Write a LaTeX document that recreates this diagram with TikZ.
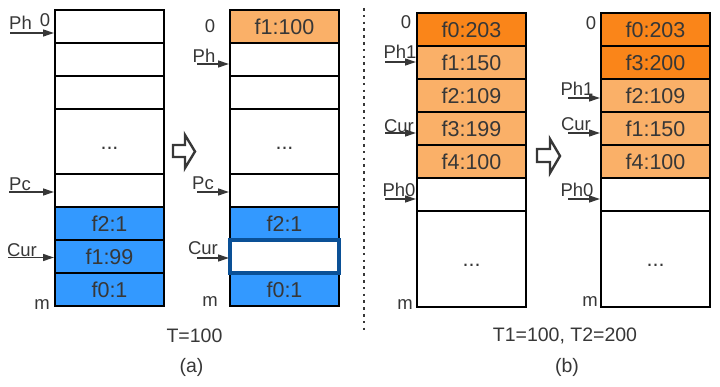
\documentclass[tikz,border=0pt]{standalone}
\usepackage{fontspec}
\setmainfont{Liberation Sans}
\usetikzlibrary{positioning,arrows.meta,calc}
\definecolor{cellblue}{RGB}{51,153,255}
\definecolor{hiblue}{RGB}{10,80,150}
\definecolor{darkor}{RGB}{250,133,25}
\definecolor{lightor}{RGB}{250,176,104}
\definecolor{ink}{RGB}{55,55,55}
\newcommand\celldots{...}

\begin{document}
\begin{tikzpicture}[x=1pt,y=-1pt,
  cell/.style={draw,line width=2.4pt,minimum width=109pt,minimum height=33pt,inner sep=0pt,outer sep=0pt,
    text=ink,font=\fontsize{21.5}{24}\selectfont,text height=15.5pt,text depth=0pt},
  lab/.style={text=ink,font=\fontsize{18.5}{21}\selectfont,inner sep=0pt},
  ptr/.style={draw=ink,line width=1.3pt,shorten >=1pt,-{Triangle[length=11pt,width=7pt]}},
  blk/.style={draw=ink,line width=2.4pt,line join=miter},
  capt/.style={text=ink,font=\fontsize{19.5}{22}\selectfont,inner sep=0pt}]
\useasboundingbox (0,0) rectangle (720,387);
% (a) before the swap
\foreach \n/\y/\h/\c/\t in {a1/26.5/33/white/{},a2/59.5/33/white/{},a3/92.5/33/white/{},a4/141.5/65/white/\celldots,
  a5/190.5/33/white/{},a6/223.5/33/cellblue/f2:1,a7/256.5/33/cellblue/f1:99,a8/289.5/33/cellblue/f0:1}
  \node[cell,fill=\c,minimum height=\h pt] (\n) at (109.5,\y) {\t};
% (a) after the swap
\foreach \n/\y/\h/\c/\t in {c1/26.5/33/lightor/f1:100,c2/59.5/33/white/{},c3/92.5/33/white/{},c4/141.5/65/white/\celldots,
  c5/190.5/33/white/{},c6/223.5/33/cellblue/f2:1,c8/289.5/33/cellblue/f0:1}
  \node[cell,fill=\c,minimum height=\h pt] (\n) at (284.5,\y) {\t};
\node[cell,fill=white,draw=hiblue,line width=4.5pt] (c7) at (284.5,256.5) {};
% (b) before
\foreach \n/\y/\h/\c/\t in {e1/29.5/33/darkor/f0:203,e2/62.5/33/lightor/f1:150,e3/95.5/33/lightor/f2:109,
  e4/128.5/33/lightor/f3:199,e5/161.5/33/lightor/f4:100,e6/194.5/33/white/{},e7/259/96/white/\celldots}
  \node[cell,fill=\c,minimum height=\h pt] (\n) at (471.5,\y) {\t};
% (b) after
\foreach \n/\y/\h/\c/\t in {g1/29.5/33/darkor/f0:203,g2/62.5/33/darkor/f3:200,g3/95.5/33/lightor/f2:109,
  g4/128.5/33/lightor/f1:150,g5/161.5/33/lightor/f4:100,g6/194.5/33/white/{},g7/259/96/white/\celldots}
  \node[cell,fill=\c,minimum height=\h pt] (\n) at (655.5,\y) {\t};
% pointers, (a) left
\node[lab] (zA) at (45,20) {0};
\node[lab] (phA) at (20.5,23) {Ph};
\node[lab] (pcA) at (20,184) {Pc};
\node[lab] (curA) at (22,250) {Cur};
\node[lab] (mA) at (42,305) {m};
\coordinate (tPhA) at (10,33);
\coordinate (tPcA) at (9,192);
\coordinate (tCurA) at (8,257.5);
\draw[ptr] (tPhA) -- (tPhA -| a1.west);
\draw[ptr] (tPcA) -- (tPcA -| a5.west);
\draw[ptr] (tCurA) -- (tCurA -| a7.west);
% pointers, (a) right
\node[lab] (zC) at (210,26) {0};
\node[lab] (phC) at (204,56) {Ph};
\node[lab] (pcC) at (203,183) {Pc};
\node[lab] (curC) at (203,248) {Cur};
\node[lab] (mC) at (210,302) {m};
\coordinate (tPhC) at (197,64);
\coordinate (tPcC) at (197,192);
\coordinate (tCurC) at (197,258);
\draw[ptr] (tPhC) -- (tPhC -| c2.west);
\draw[ptr] (tPcC) -- (tPcC -| c5.west);
\draw[ptr] (tCurC) -- (tCurC -| c7.west);
% pointers, (b) left
\node[lab] (zE) at (406,22) {0};
\node[lab] (ph1E) at (400,52) {Ph1};
\node[lab] (curE) at (399,126) {Cur};
\node[lab] (ph0E) at (399,190) {Ph0};
\node[lab] (mE) at (405,305) {m};
\coordinate (tPh1E) at (385,62);
\coordinate (tCurE) at (385,133);
\coordinate (tPh0E) at (385,199);
\draw[ptr] (tPh1E) -- (tPh1E -| e2.west);
\draw[ptr] (tCurE) -- (tCurE -| e4.west);
\draw[ptr] (tPh0E) -- (tPh0E -| e6.west);
% pointers, (b) right
\node[lab] (zG) at (591,23) {0};
\node[lab] (ph1G) at (577,89) {Ph1};
\node[lab] (curG) at (576,124) {Cur};
\node[lab] (ph0G) at (577,190) {Ph0};
\node[lab] (mG) at (590,302) {m};
\coordinate (tPh1G) at (568,98);
\coordinate (tCurG) at (568,133);
\coordinate (tPh0G) at (568,199);
\draw[ptr] (tPh1G) -- (tPh1G -| g3.west);
\draw[ptr] (tCurG) -- (tCurG -| g4.west);
\draw[ptr] (tPh0G) -- (tPh0G -| g6.west);
% hollow step arrows
\draw[blk] (173,145) -- (185,145) -- (185,135) -- (195,151.5) -- (185,168) -- (185,157) -- (173,157) -- cycle;
\draw[blk] (537,149) -- (550,149) -- (550,139) -- (560,156) -- (550,173) -- (550,162) -- (537,162) -- cycle;
% separator
\coordinate (sepTop) at (364,8);
\coordinate (sepBot) at (364,334);
\draw[ink,line width=2.6pt,dash pattern=on 2.6pt off 4.2pt] (sepTop) -- (sepBot);
% captions
\node[capt] (tA) at (194.5,335.5) {T=100};
\node[capt] (capA) at (191.5,367) {(a)};
\node[capt] (tB) at (565,335.5) {T1=100, T2=200};
\node[capt] (capB) at (567,367) {(b)};
\end{tikzpicture}
\end{document}
